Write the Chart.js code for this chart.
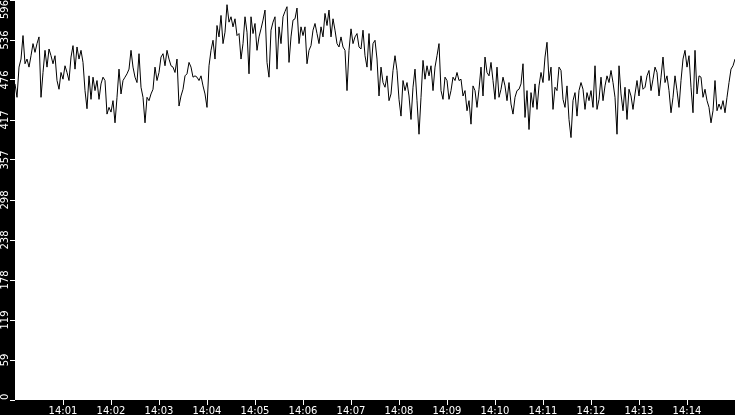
<!DOCTYPE html>
<html>
<head>
<meta charset="utf-8">
<script src="https://cdn.jsdelivr.net/npm/chart.js@4/dist/chart.umd.min.js"></script>
<style>
html,body{margin:0;padding:0;background:#000;}
#wrap{width:735px;height:415px;position:relative;}
</style>
</head>
<body>
<div id="wrap"><canvas id="c"></canvas></div>
<script>
/* ========== data ========= */
const stepSec = 2.5; // one sample every 2.5 s, 14:00 -> 14:15
const values = [
  471,451,496,508,543,501,508,496,513,531,518,531,541,451,488,521,496,523,513,501,513,476,463,488,478,498,488,476,511,528,493,526,508,521,503,461,434,483,448,481,461,476,448,471,481,
  476,426,436,429,446,413,451,493,456,476,481,486,493,521,496,481,473,516,466,451,413,451,446,456,463,496,476,488,511,516,498,521,508,498,496,488,508,438,453,463,483,486,503,496,481,
  483,481,476,483,468,456,436,498,521,536,508,558,541,573,531,548,589,563,571,556,568,543,546,508,531,571,548,486,571,546,561,521,541,553,566,581,503,481,551,563,571,493,556,531,571,
  579,586,503,541,566,568,584,531,556,543,556,501,521,528,551,561,546,531,556,541,576,558,581,541,568,551,531,526,541,526,521,461,521,553,531,541,546,526,523,551,513,496,546,491,531,
  536,508,453,496,473,466,483,446,456,491,513,491,448,423,476,461,473,453,418,466,493,446,396,451,506,478,498,483,498,461,496,513,531,461,448,481,476,448,461,481,476,488,476,478,453,
  461,431,446,411,468,461,436,463,496,453,511,488,483,503,476,448,496,451,463,481,468,446,473,441,426,451,461,463,471,501,421,461,403,458,436,471,433,468,488,473,511,533,476,496,433,
  466,461,496,491,448,436,468,418,391,446,458,423,461,473,463,433,458,446,461,436,498,433,448,481,446,468,483,473,491,473,451,396,498,456,431,466,418,463,453,433,456,476,453,483,463,
  466,483,491,461,478,496,488,453,481,511,473,483,461,428,451,483,461,436,476,508,521,496,513,466,428,521,456,483,481,451,463,446,436,413,431,476,431,441,433,446,428,451,473,493,498,508
];
const xTickSeconds = [60,120,180,240,300,360,420,480,540,600,660,720,780,840];
const xTickLabels = ['14:01','14:02','14:03','14:04','14:05','14:06','14:07','14:08','14:09','14:10','14:11','14:12','14:13','14:14'];
const yTickValues = [0,59.6,119.2,178.8,238.4,298,357.6,417.2,476.8,536.4,596];
const yTickLabels = ['0','59','119','178','238','298','357','417','476','536','596'];

const FONT = '10px "DejaVu Sans", sans-serif';

/* ========== plugins ========= */
const bgPlugin = {
  id:'bg',
  beforeDraw(ch){
    const {ctx,chartArea:a} = ch;
    ctx.save();
    ctx.fillStyle = '#000'; ctx.fillRect(0,0,ch.width,ch.height);
    ctx.fillStyle = '#fff'; ctx.fillRect(a.left,a.top,a.right-a.left,a.bottom-a.top);
    ctx.restore();
  }
};
// rotated y labels, kept inside the plot height like the original
const yLabelPlugin = {
  id:'ylabels',
  afterDraw(ch){
    const {ctx,chartArea:a} = ch, s = ch.scales.y;
    ctx.save();
    ctx.font = FONT; ctx.fillStyle = '#fff';
    ctx.textAlign = 'center'; ctx.textBaseline = 'middle';
    yTickValues.forEach((v,i)=>{
      const t = yTickLabels[i], w = ctx.measureText(t).width;
      let y = s.getPixelForValue(v);
      y = Math.max(a.top + w/2, Math.min(a.bottom - w/2, y));
      ctx.save(); ctx.translate(5.5,y); ctx.rotate(-Math.PI/2); ctx.fillText(t,0,0); ctx.restore();
    });
    ctx.restore();
  }
};

/* ========== chart ========= */
const pts = values.map((v,i)=>({x:i*stepSec,y:v}));
new Chart(document.getElementById('c'),{
  type:'line',
  data:{datasets:[{data:pts,borderColor:'#000',borderWidth:1,pointRadius:0,tension:0,fill:false}]},
  options:{
    responsive:true,maintainAspectRatio:false,animation:false,devicePixelRatio:1,
    layout:{padding:0},
    plugins:{legend:{display:false},tooltip:{enabled:false}},
    scales:{
      x:{
        type:'linear',min:0,max:900,
        afterBuildTicks:s=>{s.ticks = xTickSeconds.map(v=>({value:v}));},
        afterFit:s=>{s.height = 15;},
        grid:{drawOnChartArea:false,drawTicks:true,tickLength:5,color:'#fff'},
        border:{display:false},
        ticks:{autoSkip:false,maxRotation:0,padding:0,color:'#fff',font:{family:'"DejaVu Sans", sans-serif',size:10},
          callback:v=>xTickLabels[xTickSeconds.indexOf(v)] ?? ''}
      },
      y:{
        min:0,max:596,
        afterBuildTicks:s=>{s.ticks = yTickValues.map(v=>({value:v}));},
        afterFit:s=>{s.width = 15;},
        grid:{drawOnChartArea:false,drawTicks:true,tickLength:5,color:'#fff'},
        border:{display:false},
        ticks:{display:false}
      }
    }
  },
  plugins:[bgPlugin,yLabelPlugin]
});
</script>
</body>
</html>
